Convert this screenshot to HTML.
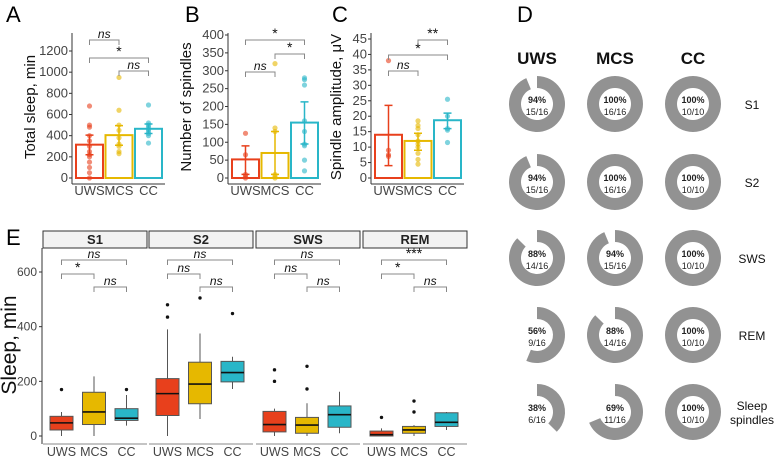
<!DOCTYPE html>
<html><head><meta charset="utf-8"><style>
body{margin:0;background:#fff;}
svg{display:block;font-family:"Liberation Sans",sans-serif;}
</style></head><body>
<svg id="fig" width="778" height="457" viewBox="0 0 778 457" xmlns="http://www.w3.org/2000/svg">
<text x="6" y="22" font-size="22">A</text>
<text x="185" y="22" font-size="22">B</text>
<text x="332" y="22" font-size="22">C</text>
<text x="517" y="22" font-size="22">D</text>
<text x="6" y="245" font-size="22">E</text>
</svg>
<script>
const groups=["UWS","MCS","CC"];
const colors=["#e8401c","#e6b800","#29b6c8"];
// Panel A
const aMeans=[315,405,465];
const aErrLo=[220,310,420];
const aErrHi=[405,495,510];
const aDots=[[680,500,480,400,350,300,250,220,200,150,100,50,0],[950,640,500,450,380,320,300,250,230],[690,520,500,480,460,440,420,400,330]];
const aTicks=[0,200,400,600,800,1000,1200];
// Panel B
const bMeans=[52,70,155];
const bErrLo=[10,10,95];
const bErrHi=[90,130,213];
const bDots=[[125,65,10,5,0],[320,140,130,10,5,0],[280,275,260,160,130,95,90,50,20]];
const bTicks=[0,50,100,150,200,250,300,350,400];
// Panel C
const cMeans=[14,12,18.7];
const cErrLo=[4,9,16];
const cErrHi=[23.5,14.5,21];
const cDots=[[38,9,7.5,7],[18.5,17,16,14,12,11,10,8,6,4.5],[25.5,20,16,15.5,11.5]];
const cTicks=[0,5,10,15,20,25,30,35,40,45];
// Panel D
const dRows=["S1","S2","SWS","REM","Sleep spindles"];
const dNum=[[15,16,10],[15,16,10],[14,15,10],[9,14,10],[6,11,10]];
const dDen=[16,16,10];
// Panel E
const eFacets=["S1","S2","SWS","REM"];
const eQ1=[[22,42,57],[75,118,198],[15,10,32],[0,10,35]];
const eMed=[[48,88,65],[155,190,232],[42,40,78],[5,22,50]];
const eQ3=[[72,160,100],[210,270,273],[90,68,110],[18,35,85]];
const eWLo=[[0,0,38],[0,62,172],[0,0,10],[0,0,22]];
const eWHi=[[88,218,150],[390,375,290],[100,120,162],[28,40,88]];
const eOut=[[[170],[],[170]],[[435,480],[505],[448]],[[200,242],[172,255],[]],[[68],[88,128],[]]];
const eTicks=[0,200,400,600];
const eSig=[["*","ns","ns"],["ns","ns","ns"],["ns","ns","ns"],["*","***","ns"]];

const svg=document.getElementById('fig');
const NS="http://www.w3.org/2000/svg";
function mk(tag,at,parent,txt){const e=document.createElementNS(NS,tag);for(const k in at)e.setAttribute(k,at[k]);if(txt!==undefined)e.textContent=txt;(parent||svg).appendChild(e);return e;}
function bracket(x1,x2,y,label,name){
  const g=mk('g',{});
  
  
  mk('path',{d:`M${x1} ${y+5}V${y}H${x2}V${y+5}`,fill:'none',stroke:'#888','stroke-width':1},g);
  mk('text',{x:(x1+x2)/2,y:y-2,'font-size':label==='ns'?12:14,'text-anchor':'middle','font-style':label==='ns'?'italic':'normal',fill:'#111'},g,label);
}
function barPanel(p){
  const y=v=>p.y0-(v-0)*(p.y0-p.yTop)/(p.vTop);
  const g=mk('g',{});
  
  
  mk('line',{x1:p.ax,x2:p.ax,y1:33,y2:184,stroke:'#333','stroke-width':1},g);
  mk('line',{x1:p.ax,x2:p.ax+93,y1:184,y2:184,stroke:'#333','stroke-width':1},g);
  p.ticks.forEach(t=>{
    mk('line',{x1:p.ax-3,x2:p.ax,y1:y(t),y2:y(t),stroke:'#333'},g);
    const tx=mk('text',{x:p.ax-4,y:y(t)+4,'font-size':13,'text-anchor':'end',fill:'#444'},g,t);
    
    
  });
  const at=mk('text',{x:0,y:0,'font-size':15,'text-anchor':'middle',fill:'#111',transform:`translate(${p.titleX},107) rotate(-90)`},g,p.title);
  
  
  const bw=27;
  groups.forEach((gr,i)=>{
    const x0=p.ax+4+i*29.5, cx=x0+bw/2;
    const r=mk('rect',{x:x0,y:y(p.means[i]),width:bw,height:y(0)-y(p.means[i]),fill:'none',stroke:colors[i],'stroke-width':2},g);
    
    
    p.dots[i].forEach(v=>{
      const c=mk('circle',{cx:cx,cy:y(v),r:2.6,fill:colors[i],opacity:0.6},g);
      
      
    });
    mk('path',{d:`M${cx} ${y(p.lo[i])}V${y(p.hi[i])}M${cx-4} ${y(p.lo[i])}H${cx+4}M${cx-4} ${y(p.hi[i])}H${cx+4}`,stroke:colors[i],'stroke-width':1.5,fill:'none'},g);
    const xl=mk('text',{x:cx,y:195,'font-size':13,'text-anchor':'middle',fill:'#444'},g,gr);
    
    
  });
  const c=i=>p.ax+4+i*29.5+bw/2;
  p.sig.forEach(s=>bracket(c(s[0]),c(s[1]),s[2],s[3],'significance-bracket'));
}
barPanel({name:'panel-a',ax:72,y0:178,yTop:51,vTop:1200,ticks:aTicks,means:aMeans,lo:aErrLo,hi:aErrHi,dots:aDots,title:'Total sleep, min',titleX:35,
  sig:[[0,1,40,'ns'],[0,2,58,'*'],[1,2,71,'ns']]});
barPanel({name:'panel-b',ax:228,y0:178,yTop:35,vTop:400,ticks:bTicks,means:bMeans,lo:bErrLo,hi:bErrHi,dots:bDots,title:'Number of spindles',titleX:191,
  sig:[[0,2,40,'*'],[1,2,54,'*'],[0,1,72,'ns']]});
barPanel({name:'panel-c',ax:371,y0:178,yTop:39,vTop:45,ticks:cTicks,means:cMeans,lo:cErrLo,hi:cErrHi,dots:cDots,title:'Spindle amplitude, μV',titleX:341,
  sig:[[1,2,40,'**'],[0,2,55,'*'],[0,1,71,'ns']]});

// Panel D
const dCols=[537,615,693], dRowY=[104,182,258,335,412];
const dg=mk('g',{});


groups.forEach((gr,i)=>{
  const t=mk('text',{x:dCols[i],y:64,'font-size':17,'font-weight':'bold','text-anchor':'middle',fill:'#111'},dg,gr);
  
  
});
function arcPath(cx,cy,R,r,f){
  if(f>=0.9999){return `M${cx} ${cy-R}A${R} ${R} 0 1 1 ${cx-0.01} ${cy-R}Z M${cx} ${cy-r}A${r} ${r} 0 1 0 ${cx+0.01} ${cy-r}Z`;}
  const a=f*2*Math.PI, large=f>0.5?1:0;
  const x1=cx+R*Math.sin(a),y1=cy-R*Math.cos(a),x2=cx+r*Math.sin(a),y2=cy-r*Math.cos(a);
  return `M${cx} ${cy-R}A${R} ${R} 0 ${large} 1 ${x1} ${y1}L${x2} ${y2}A${r} ${r} 0 ${large} 0 ${cx} ${cy-r}Z`;
}
dRows.forEach((row,ri)=>{
  const cy=dRowY[ri];
  groups.forEach((gr,ci)=>{
    const cx=dCols[ci], f=dNum[ri][ci]/dDen[ci];
    const p=mk('path',{d:arcPath(cx,cy,28,16,f),fill:'#929292','fill-rule':'evenodd'},dg);
    
    
    mk('text',{x:cx,y:cy-1,'font-size':9,'font-weight':'bold','text-anchor':'middle',fill:'#222'},dg,Math.round(f*100)+'%');
    mk('text',{x:cx,y:cy+11,'font-size':9,'text-anchor':'middle',fill:'#222'},dg,dNum[ri][ci]+'/'+dDen[ci]);
  });
  const lb=mk('text',{x:752,y:cy+5,'font-size':12,'text-anchor':'middle',fill:'#111'},dg);
  
  
  if(row==='Sleep spindles'){mk('tspan',{x:752,y:cy-2},lb,'Sleep');mk('tspan',{x:752,y:cy+12},lb,'spindles');}
  else lb.textContent=row;
});

// Panel E
const eg=mk('g',{});


const ey=v=>436-v*(436-272)/600;
const fx=[43,149,256,363], fw=104;
mk('line',{x1:42,x2:42,y1:248,y2:444,stroke:'#333'},eg);
eTicks.forEach(t=>{
  mk('line',{x1:39,x2:42,y1:ey(t),y2:ey(t),stroke:'#333'},eg);
  const tx=mk('text',{x:37,y:ey(t)+4,'font-size':12,'text-anchor':'end',fill:'#444'},eg,t);
  
  
});
const et=mk('text',{x:0,y:0,'font-size':21,'text-anchor':'middle',fill:'#111',transform:'translate(16,345) rotate(-90)'},eg,'Sleep, min');


eFacets.forEach((fn,fi)=>{
  const x0=fx[fi];
  const s=mk('rect',{x:x0,y:231,width:fw,height:17,fill:'#f2f2f2',stroke:'#333','stroke-width':1},eg);
  
  
  mk('text',{x:x0+fw/2,y:244,'font-size':13,'font-weight':'bold','text-anchor':'middle',fill:'#222'},eg,fn);
  mk('line',{x1:x0,x2:x0+fw,y1:444,y2:444,stroke:'#888'},eg);
  const cxs=[0,1,2].map(i=>x0+18.5+i*32.5);
  groups.forEach((gr,i)=>{
    const cx=cxs[i];
    mk('line',{x1:cx,x2:cx,y1:ey(eWLo[fi][i]),y2:ey(eWHi[fi][i]),stroke:'#555'},eg);
    const b=mk('rect',{x:cx-11.5,y:ey(eQ3[fi][i]),width:23,height:ey(eQ1[fi][i])-ey(eQ3[fi][i]),fill:colors[i],stroke:'#555'},eg);
    
    
    mk('line',{x1:cx-11.5,x2:cx+11.5,y1:ey(eMed[fi][i]),y2:ey(eMed[fi][i]),stroke:'#111','stroke-width':1.6},eg);
    eOut[fi][i].forEach(v=>{
      const o=mk('circle',{cx:cx,cy:ey(v),r:1.7,fill:'#111'},eg);
      
      
    });
    const xl=mk('text',{x:cx,y:456,'font-size':12.5,'text-anchor':'middle',fill:'#444'},eg,gr);
    
    
  });
  bracket(cxs[0],cxs[2],260,eSig[fi][1],'significance-bracket');
  bracket(cxs[0],cxs[1],274,eSig[fi][0],'significance-bracket');
  bracket(cxs[1],cxs[2],287,eSig[fi][2],'significance-bracket');
});
</script>
</body></html>
